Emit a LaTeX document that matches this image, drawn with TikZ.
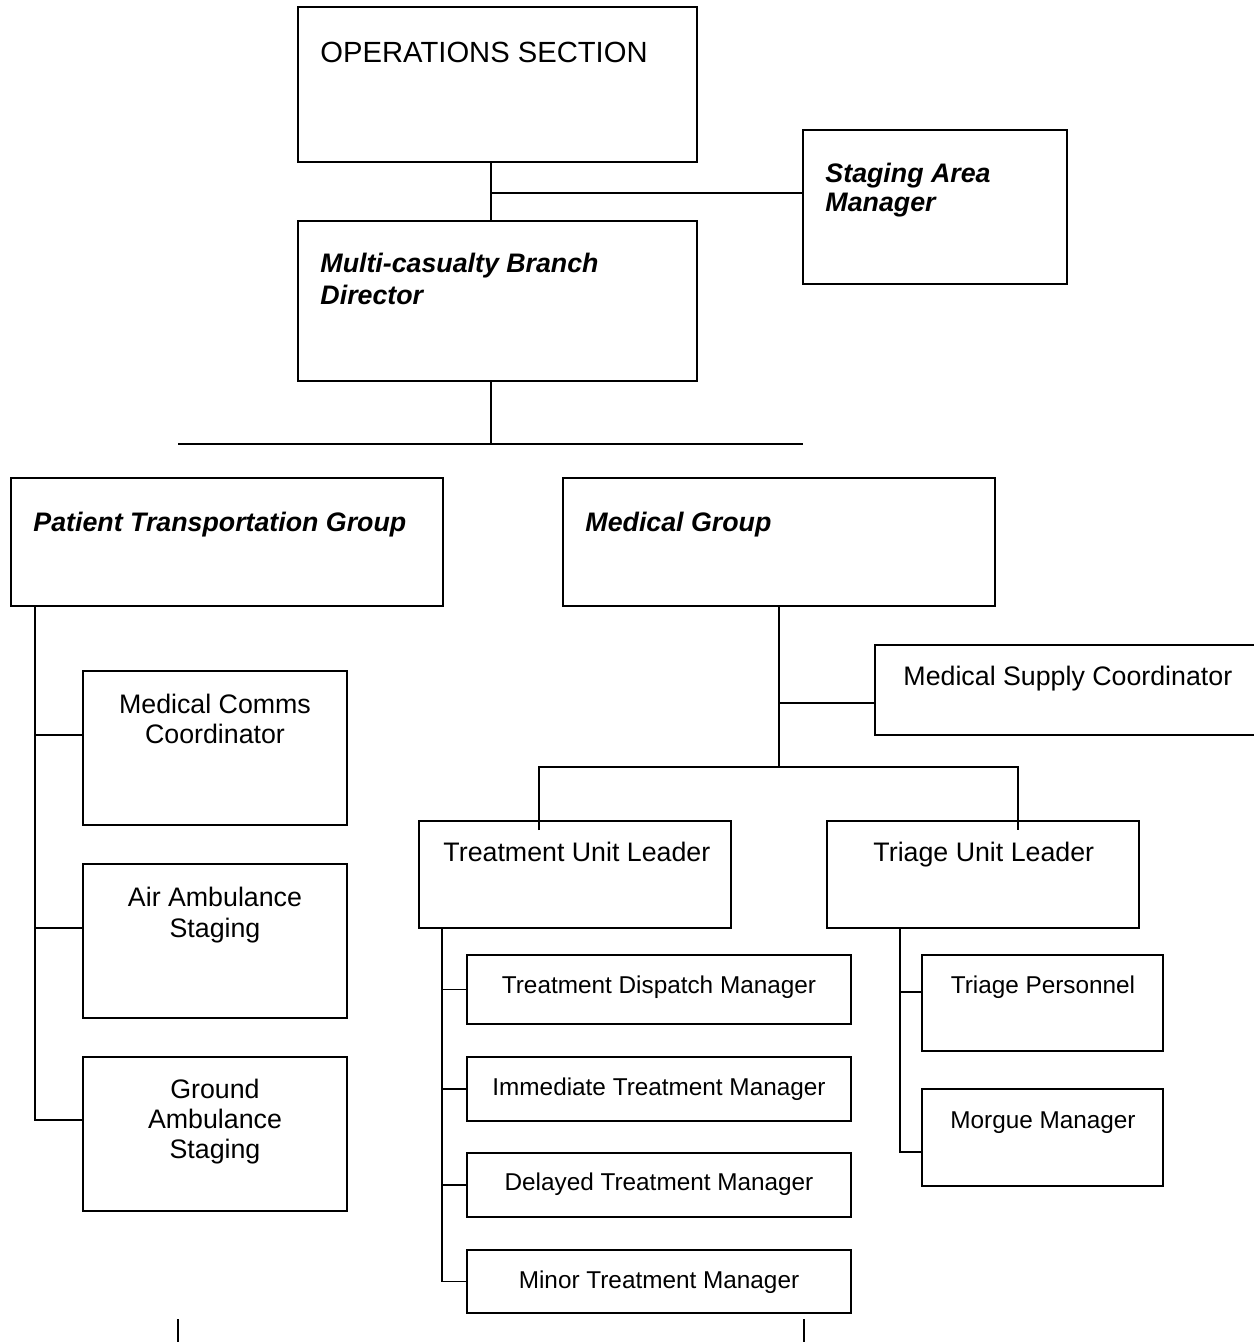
\documentclass[tikz,border=0pt]{standalone}
\usepackage{fontspec}
\setmainfont{Liberation Sans}
\usetikzlibrary{fit,calc}
\begin{document}
\begin{tikzpicture}[x=0.411pt,y=-0.411pt,
  box/.style={draw, line width=0.8pt, inner sep=0pt},
  link/.style={line width=0.8pt},
  hd/.style={inner sep=0pt, anchor=base west, font=\fontsize{12}{14}\selectfont},
  bi/.style={inner sep=0pt, anchor=base west, font=\fontsize{11}{13}\selectfont\bfseries\itshape},
  lt/.style={inner sep=0pt, anchor=base west, font=\fontsize{11}{13}\selectfont},
  ct/.style={inner sep=0pt, anchor=base, font=\fontsize{11}{13}\selectfont},
  st/.style={inner sep=0pt, anchor=base, font=\fontsize{10}{12}\selectfont}]
\clip (0,0) rectangle (1254,1342);

% boxes
\node[box, fit={(298,7) (697,162)}] (ops) {};
\node[box, fit={(803,130) (1067,284)}] (sam) {};
\node[box, fit={(298,221) (697,381)}] (mcb) {};
\node[box, fit={(11,478) (443,606)}] (ptg) {};
\node[box, fit={(563,478) (995,606)}] (mg) {};
\node[box, fit={(83,671) (347,825)}] (mcc) {};
\node[box, fit={(83,864) (347,1018)}] (aas) {};
\node[box, fit={(83,1057) (347,1211)}] (gas) {};
\node[box, fit={(875,645) (1268,735)}] (msc) {};
\node[box, fit={(419,821) (731,928)}] (tul) {};
\node[box, fit={(827,821) (1139,928)}] (trl) {};
\node[box, fit={(467,955) (851,1024)}] (tdm) {};
\node[box, fit={(467,1057) (851,1121)}] (itm) {};
\node[box, fit={(467,1153) (851,1217)}] (dtm) {};
\node[box, fit={(467,1250) (851,1313)}] (mtm) {};
\node[box, fit={(922,955) (1163,1051)}] (tp) {};
\node[box, fit={(922,1089) (1163,1186)}] (mm) {};

% labels
\node[hd] (ops-t) at (320,62) {OPERATIONS SECTION};
\node[bi] (sam-t1) at (825,182) {Staging Area};
\node[bi] (sam-t2) at (825,211) {Manager};
\node[bi] (mcb-t1) at (320,272) {Multi-casualty Branch};
\node[bi] (mcb-t2) at (320,304) {Director};
\node[bi] (ptg-t) at (33,531) {Patient Transportation Group};
\node[bi] (mg-t) at (585,531) {Medical Group};
\node[ct] (mcc-t1) at (215,713) {Medical Comms};
\node[ct] (mcc-t2) at (215,743) {Coordinator};
\node[ct] (aas-t1) at (215,906) {Air Ambulance};
\node[ct] (aas-t2) at (215,937) {Staging};
\node[ct] (gas-t1) at (215,1098) {Ground};
\node[ct] (gas-t2) at (215,1128) {Ambulance};
\node[ct] (gas-t3) at (215,1158) {Staging};
\node[lt] (msc-t) at (903,685) {Medical Supply Coordinator};
\node[lt] (tul-t) at (443,861) {Treatment Unit Leader};
\node[lt] (trl-t) at (873,861) {Triage Unit Leader};
\node[st] (tdm-t) at (659,993) {Treatment Dispatch Manager};
\node[st] (itm-t) at (659,1095) {Immediate Treatment Manager};
\node[st] (dtm-t) at (659,1190) {Delayed Treatment Manager};
\node[st] (mtm-t) at (659,1288) {Minor Treatment Manager};
\node[st] (tp-t) at (1043,993) {Triage Personnel};
\node[st] (mm-t) at (1043,1128) {Morgue Manager};

% upper connectors
\coordinate (j0) at (491,193);
\draw[link] (j0 |- ops.south) -- (j0 |- mcb.north);
\draw[link] (j0) -- (j0 -| sam.west);
\coordinate (j1) at (491,444);
\draw[link] (j1 |- mcb.south) -- (j1);
\coordinate (bl) at (178,444);
\coordinate (br) at (803,444);
\draw[link] (bl) -- (br);

% patient transportation group
\coordinate (pa) at (35,735);
\coordinate (pb) at (35,928);
\coordinate (pc) at (35,1120);
\draw[link] (pa |- ptg.south) -- (pc) -- (pc -| gas.west);
\draw[link] (pa) -- (pa -| mcc.west);
\draw[link] (pb) -- (pb -| aas.west);

% medical group
\coordinate (m0) at (779,703);
\coordinate (m1) at (779,767);
\draw[link] (m1 |- mg.south) -- (m1);
\draw[link] (m0) -- (m0 -| msc.west);
\coordinate (hl) at (539,767);
\coordinate (hr) at (1018,767);
\draw[link] ($(hl |- tul.north)+(0,10)$) -- (hl) -- (hr) -- ($(hr |- trl.north)+(0,10)$);

% treatment unit
\coordinate (tt) at (442,928);
\draw[link] (tt |- tul.south) -- (tt |- mtm.west) -- (mtm.west);
\draw[link] (tt |- tdm.west) -- (tdm.west);
\draw[link] (tt |- itm.west) -- (itm.west);
\draw[link] (tt |- dtm.west) -- (dtm.west);

% triage unit
\coordinate (ra) at (900,992);
\coordinate (rb) at (900,1152);
\draw[link] (ra |- trl.south) -- (rb) -- (rb -| mm.west);
\draw[link] (ra) -- (ra -| tp.west);

% stubs at the lower edge
\coordinate (sl) at (178,1319);
\coordinate (sr) at (804,1319);
\draw[link] (sl) -- (sl |- 0,1342);
\draw[link] (sr) -- (sr |- 0,1342);
\end{tikzpicture}
\end{document}
